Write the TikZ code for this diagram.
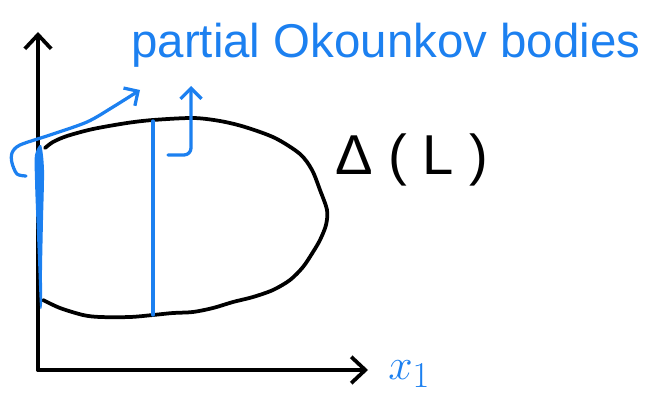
\documentclass[tikz,border=0pt]{standalone}
\usepackage{fontspec}
\setmainfont{Liberation Sans}
\usetikzlibrary{arrows.meta}
\definecolor{penblue}{RGB}{28,128,240}
\definecolor{penblack}{RGB}{0,0,0}
\tikzset{
  pen/.style={line width=0.075cm, color=penblack, line cap=round, line join=round},
  bluepen/.style={line width=0.065cm, color=penblue, line cap=round, line join=round},
  axis/.style={pen, -{Straight Barb[length=8pt,width=15pt]}},
  pointer/.style={bluepen, -{Straight Barb[length=6pt,width=12pt]}},
  note/.style={text=penblue, font=\fontsize{27}{31}\selectfont, inner sep=0pt}
}

\begin{document}
\begin{tikzpicture}[x=0.02cm, y=-0.02cm]
  \useasboundingbox (0,0) rectangle (645,395);

  % axes
  \coordinate (origin) at (38,370);
  \coordinate (ytop) at (38,32);
  \coordinate (xend) at (368,370);
  \draw[axis] (origin) -- (ytop);
  \draw[axis] (origin) -- (xend);

  % the body
  \draw[pen] plot[smooth] coordinates {(45,148) (53,142) (67,136) (93,129) (127,123)
    (153,120) (193,118) (220,121) (245,127) (275,138) (300,154) (312,170) (320,190)
    (327,210) (326,225) (320,240) (313,252) (303,267) (290,280) (273,290) (253,297)
    (233,302) (213,308) (193,312) (173,313) (153,315) (130,317) (100,317) (83,315)
    (60,308) (43,300)};

  % slices
  \draw[bluepen] (153,121) -- (153,315);
  \fill[penblue] plot[smooth cycle] coordinates {(35,155) (41,145) (44,170) (43,220)
    (42,270) (42,304) (40,306) (38,260) (36,210) (35,180)};

  % labels
  \node[note, anchor=base west] (title) at (131,58) {partial Okounkov bodies};
  \node[font=\fontsize{32}{36}\selectfont, inner sep=0pt, anchor=base west] (body)
    at (335,174) {Δ ( L )};
  \node[note, font=\fontsize{32}{36}\selectfont, anchor=base west] (xlabel) at (388,379) {$x_1$};

  % pointers
  \coordinate (leftend) at (140,90);
  \coordinate (midend) at (191,86);
  \draw[pointer] plot[smooth] coordinates {(26,176) (17,174) (12,163) (12,153) (20,145)
    (50,135) (87,122) (113,107) (leftend)};
  \draw[pointer, rounded corners=4pt] (168,155) -- (191,155) -- (midend);
\end{tikzpicture}
\end{document}
